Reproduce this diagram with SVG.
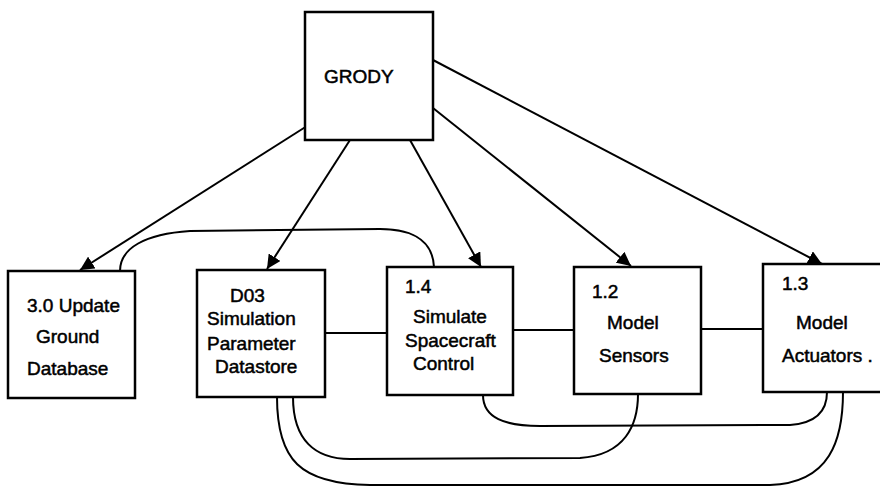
<svg xmlns="http://www.w3.org/2000/svg" width="880" height="488" viewBox="0 0 880 488">
<style>
.box{fill:#fff;stroke:#000;stroke-width:2.5}
.t{font-family:"Liberation Sans",Arial,sans-serif;font-size:19px;fill:#000;stroke:#000;stroke-width:0.5}
.c{fill:none;stroke:#000;stroke-width:2}
</style>
<defs>
<marker id="ah" viewBox="0 0 10 10" refX="10" refY="5" markerWidth="7" markerHeight="7" orient="auto" markerUnits="strokeWidth">
<path d="M0,0 L10,5 L0,10 z" fill="#000"/>
</marker>
</defs>
<rect width="880" height="488" fill="#fff"/>
<g id="connectors">
<line class="c" x1="307" y1="126" x2="80" y2="270" marker-end="url(#ah)"/>
<line class="c" x1="350" y1="140" x2="267" y2="269" marker-end="url(#ah)"/>
<line class="c" x1="410" y1="140" x2="481" y2="267" marker-end="url(#ah)"/>
<line class="c" x1="433" y1="108" x2="631" y2="266" marker-end="url(#ah)"/>
<line class="c" x1="433" y1="60" x2="822" y2="264" marker-end="url(#ah)"/>
<path class="c" d="M120,271 C120,248 145,234 190,231 L380,229 C418,229 433,245 434,267"/>
<line class="c" x1="325" y1="333" x2="387" y2="333"/>
<line class="c" x1="513" y1="330" x2="574" y2="330"/>
<line class="c" x1="701" y1="329" x2="763" y2="329"/>
<path class="c" d="M277,397 C277,460 300,484 370,485 L770,485 C830,483 843,440 843,392"/>
<path class="c" d="M293,397 C293,440 315,459 350,459 L580,458 C625,455 638,425 638,394"/>
<path class="c" d="M483,395 C483,418 505,426 540,426 L790,425 C818,423 827,410 827,392"/>
</g>
<g id="grody">
<rect class="box" x="305" y="12" width="128" height="128"/>
<text class="t" x="324" y="83">GRODY</text>
</g>
<g id="n30">
<rect class="box" x="8" y="271" width="127" height="127"/>
<text class="t" x="27" y="312">3.0 Update</text>
<text class="t" x="36" y="343">Ground</text>
<text class="t" x="27" y="375">Database</text>
</g>
<g id="d03">
<rect class="box" x="197" y="270" width="128" height="127"/>
<text class="t" x="230" y="302">D03</text>
<text class="t" x="207" y="325">Simulation</text>
<text class="t" x="207" y="350">Parameter</text>
<text class="t" x="215" y="373">Datastore</text>
</g>
<g id="n14">
<rect class="box" x="387" y="267" width="126" height="128"/>
<text class="t" x="405" y="293">1.4</text>
<text class="t" x="413" y="323">Simulate</text>
<text class="t" x="405" y="347">Spacecraft</text>
<text class="t" x="413" y="370">Control</text>
</g>
<g id="n12">
<rect class="box" x="574" y="267" width="127" height="127"/>
<text class="t" x="592" y="298">1.2</text>
<text class="t" x="607" y="329">Model</text>
<text class="t" x="599" y="362">Sensors</text>
</g>
<g id="n13">
<rect class="box" x="763" y="264" width="130" height="128"/>
<text class="t" x="782" y="290">1.3</text>
<text class="t" x="796" y="329">Model</text>
<text class="t" x="782" y="362">Actuators .</text>
</g>
</svg>
